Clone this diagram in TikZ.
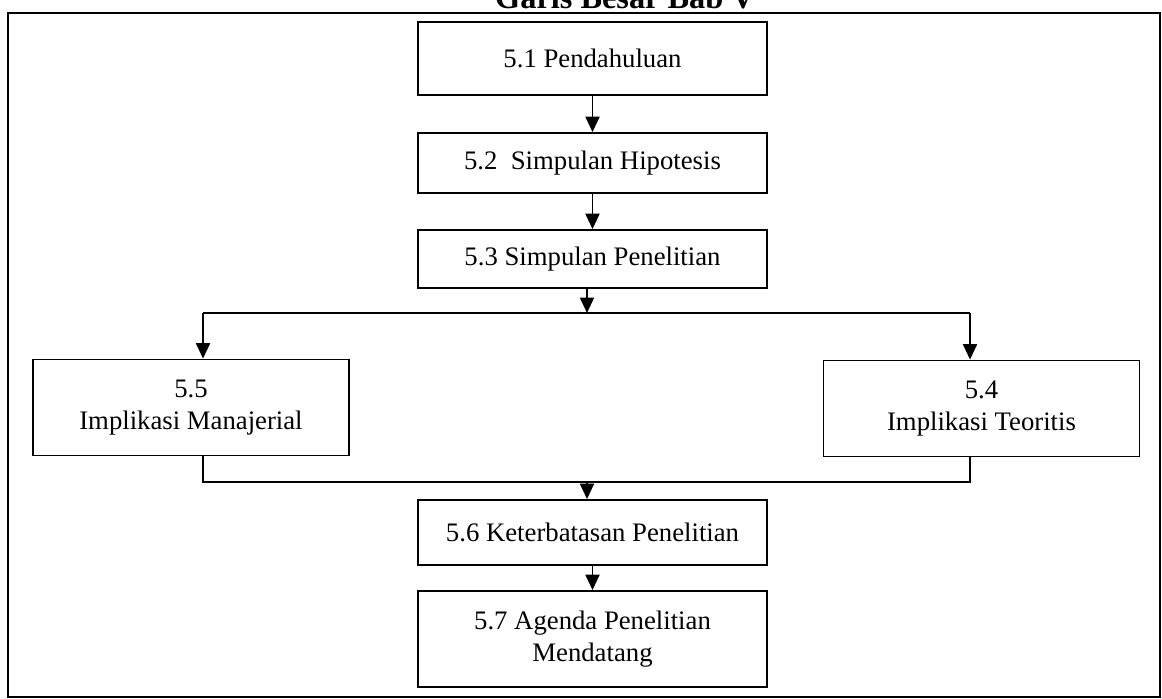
\documentclass[tikz,border=0pt]{standalone}
\usepackage{fontspec}
\setmainfont{Liberation Serif}
\usetikzlibrary{arrows.meta,positioning,calc}

\begin{document}
\begin{tikzpicture}[
    x=0.025cm, y=-0.025cm,
    box/.style={rectangle, draw, line width=1.3pt, minimum width=8.725cm,
                align=center, font=\fontsize{19}{23}\selectfont},
    sidebox/.style={box, minimum width=7.9cm, minimum height=2.4cm},
    arrow/.style={-{Triangle[width=10pt,length=11pt]}, line width=1.3pt},
    link/.style={line width=1.3pt},
]
\clip (0,0) rectangle (1162,698);

% Frame and title
\node[anchor=base, font=\fontsize{23}{27}\selectfont\bfseries] (title) at (625,8) {Garis Besar Bab V};
\draw[line width=0.8pt] (8,13) rectangle (1160,697);
\draw[line width=1.8pt] (8,13) -- (1160,13);

% Main column
\node[box, minimum height=1.825cm] (pend) at (592.5,58.5) {5.1 Pendahuluan};
\node[box, minimum height=1.5cm] (hipo) at (592.5,163) {5.2~~Simpulan Hipotesis};
\node[box, minimum height=1.45cm] (simp) at (592.5,259) {5.3 Simpulan Penelitian};

% Implications
\node[sidebox] (manj) at (191,407.5) {5.5\\Implikasi Manajerial};
\node[sidebox] (teor) at (981.5,408.5) {5.4\\Implikasi Teoritis};

% Lower column
\node[box, minimum height=1.625cm] (bats) at (592.5,532.5) {5.6 Keterbatasan Penelitian};
\node[box, minimum height=2.4cm] (agnd) at (592.5,639) {5.7 Agenda Penelitian\\Mendatang};

% Branch points
\coordinate (split) at (587,313);
\coordinate (lsplit) at (203,313);
\coordinate (rsplit) at (970,313);
\coordinate (join) at (587,482);
\coordinate (ljoin) at (203,482);
\coordinate (rjoin) at (970,482);

% Arrows
\draw[arrow] (pend) -- (hipo);
\draw[arrow] (hipo) -- (simp);
\draw[arrow] (simp.south -| split) -- (split);
\draw[link] (lsplit) -- (rsplit);
\draw[arrow] (lsplit) -- (lsplit |- manj.north);
\draw[arrow] (rsplit) -- (rsplit |- teor.north);
\draw[link] (ljoin |- manj.south) -- (ljoin) -- (rjoin) -- (rjoin |- teor.south);
\draw[arrow] (join) -- (join |- bats.north);
\draw[arrow] (bats) -- (agnd);

\end{tikzpicture}
\end{document}
